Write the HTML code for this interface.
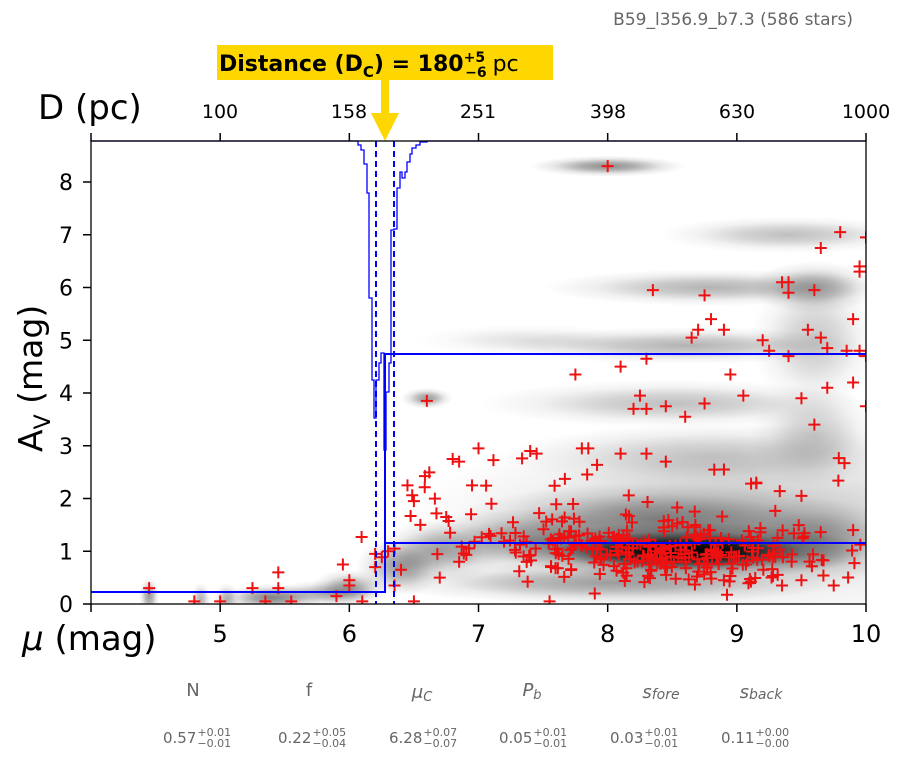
<!DOCTYPE html>
<html><head><meta charset="utf-8"><style>
body{margin:0;background:#fff;width:902px;height:759px;overflow:hidden;font-family:"DejaVu Sans","Liberation Sans",sans-serif}
svg text{font-family:"DejaVu Sans","Liberation Sans",sans-serif}
</style></head><body>
<svg id="s" width="902" height="759" viewBox="0 0 902 759" xmlns="http://www.w3.org/2000/svg">
<defs>
<radialGradient id="rg"><stop offset="0" stop-color="#000" stop-opacity="1"/><stop offset="0.35" stop-color="#000" stop-opacity="0.7"/><stop offset="0.7" stop-color="#000" stop-opacity="0.2"/><stop offset="1" stop-color="#000" stop-opacity="0"/></radialGradient>
<clipPath id="cp"><rect x="91" y="141" width="775" height="463"/></clipPath>
</defs>
<text x="853" y="25" font-size="17" fill="#666" text-anchor="end">B59_l356.9_b7.3 (586 stars)</text>
<rect x="217" y="45" width="336" height="35" fill="#ffd700"/>
<text x="219" y="71" font-size="22" font-weight="bold" fill="#000">Distance (D<tspan font-size="15" dy="6">C</tspan><tspan dy="-6">) = 180</tspan><tspan font-size="14" dy="-9">+5</tspan><tspan font-size="14" dx="-20" dy="15">−6</tspan><tspan font-weight="normal" dx="6" dy="-6">pc</tspan></text>
<rect x="381" y="80" width="8" height="36" fill="#ffd700"/>
<polygon points="371,113 399,113 385,141" fill="#ffd700"/>
<text x="38" y="119" font-size="34" fill="#000">D (pc)</text>
<g id="dens" clip-path="url(#cp)"></g>
<g id="pts" clip-path="url(#cp)"></g>
<g fill="none" stroke="#0000ff" stroke-width="1.3">
<path d="M91,141 L358,141 L358,145 L361,145 L361,150 L364,150 L364,164 L367,164 L367,193 L369,193 L369,298 L372,298 L372,380 L374,380 L374,418 L376,418 L376,380 L379,380 L379,363 L381,363 L381,353 L384,353 L384,450 L386,450 L386,392 L389,392 L389,363 L391,363 L391,230 L394,230 L394,229 L397,229 L397,188 L400,188 L400,172 L402,172 L402,178 L405,178 L405,172 L407,172 L407,162 L410,162 L410,154 L412,154 L412,148 L416,148 L416,145 L420,145 L420,142 L427,142 L427,141 L866,141"/>
</g>
<g fill="none" stroke="#0000ff" stroke-width="2">
<path d="M91,592 L385,592 L385,354 L866,354"/>
<path d="M385,543 L866,543"/>
<path d="M376,141 L376,604 M394,141 L394,604" stroke-dasharray="6,4"/>
</g>
<rect x="91" y="141" width="775" height="463" fill="none" stroke="#000" stroke-width="1.3"/>
<g id="ax" stroke="#000" stroke-width="1.5"></g>
<g id="lab" font-size="20" fill="#000"></g>
<text x="220" y="118" font-size="19" text-anchor="middle">100</text>
<text x="349" y="118" font-size="19" text-anchor="middle">158</text>
<text x="478" y="118" font-size="19" text-anchor="middle">251</text>
<text x="608" y="118" font-size="19" text-anchor="middle">398</text>
<text x="737" y="118" font-size="19" text-anchor="middle">630</text>
<text x="866" y="118" font-size="19" text-anchor="middle">1000</text>
<text x="22" y="650" font-size="34" fill="#000"><tspan font-style="italic">μ</tspan> (mag)</text>
<text transform="translate(42,452) rotate(-90)" font-size="33" fill="#000">A<tspan font-size="22" dy="8">V</tspan><tspan dy="-8"> (mag)</tspan></text>
<g font-size="18" fill="#666" text-anchor="middle">
<text x="193" y="696">N</text>
<text x="309" y="696">f</text>
<text x="422" y="698" font-style="italic">μ<tspan font-size="13" dy="3">C</tspan></text>
<text x="532" y="696" font-style="italic">P<tspan font-size="13" dy="3">b</tspan></text>
<text x="661" y="698" font-style="italic">s<tspan font-size="14" dy="1">fore</tspan></text>
<text x="761" y="698" font-style="italic">s<tspan font-size="14" dy="1">back</tspan></text>
</g>
<g font-size="15" fill="#666" id="vals"></g>
</svg>
<script>
var NS="http://www.w3.org/2000/svg";
function X(m){return 91+(m-4)*129.17}function Y(a){return 604-a*52.75}
function el(p,t,a,txt){var e=document.createElementNS(NS,t);for(var k in a)e.setAttribute(k,a[k]);if(txt!=null)e.textContent=txt;p.appendChild(e);return e}
var d=document.getElementById("dens");
var B=[[9.0,1.5,2.6,2.0,0.25],[8.6,1.0,1.4,0.55,1],[8.4,1.0,0.9,0.35,0.7],[8.9,1.0,0.6,0.3,0.6],[8.4,1.6,1.6,0.7,0.4],
[7.4,1.2,0.9,0.6,0.4],[6.7,1.0,0.5,0.6,0.35],[9.6,1.2,0.7,0.8,0.35],
[8.0,8.3,0.6,0.2,0.45],[9.4,7.0,1.0,0.35,0.25],[8.8,6.0,1.3,0.35,0.3],[9.6,6.0,0.5,0.5,0.35],
[8.6,4.9,1.4,0.35,0.3],[7.4,5.0,0.9,0.3,0.12],[8.5,3.8,1.5,0.45,0.25],[6.6,3.9,0.2,0.2,0.4],
[8.8,2.8,1.6,0.6,0.2],[9.6,3.2,0.5,1.0,0.22],[9.6,5.0,0.5,1.3,0.22],
[5.4,0.12,0.4,0.25,0.5],[4.45,0.15,0.08,0.35,0.4],[4.85,0.1,0.08,0.3,0.3],[5.05,0.1,0.1,0.3,0.3],[6.0,0.3,0.3,0.35,0.4],[5.8,0.2,0.4,0.25,0.3],[6.4,0.7,0.35,0.55,0.4],[8.0,0.4,1.8,0.4,0.35]];
B.forEach(function(b){el(d,"ellipse",{cx:X(b[0]),cy:Y(b[1]),rx:b[2]*129,ry:b[3]*52.75,fill:"url(#rg)",opacity:b[4]})});
var p=document.getElementById("pts");var s=12345;function r(){s=(s*16807)%2147483647;return s/2147483647}
function g(){return (r()+r()+r()-1.5)*1.4}
function cr(m,a){var x=X(m),y=Y(a);el(p,"path",{d:"M"+(x-6)+","+y+"h12M"+x+","+(y-6)+"v12",stroke:"#ee1111","stroke-width":2})}
for(var i=0;i<250;i++){cr(8.5+g()*0.8,1.0+g()*0.42)}
for(var i=0;i<50;i++){cr(7.3+g()*0.7,1.2+g()*0.5)}
for(var i=0;i<25;i++){cr(6.3+r()*3.6,1.6+r()*1.2)}
var O=[[8,8.3],[9.8,7.05],[10,6.95],[9.65,6.75],[9.95,6.4],[9.95,6.3],[9.35,6.1],[9.4,6.1],[9.4,5.9],[9.6,5.95],[8.35,5.95],[8.75,5.85],[8.8,5.4],[8.7,5.2],[8.9,5.2],[8.65,5.05],[9.55,5.2],[9.65,5.05],[9.9,5.4],[9.7,4.85],[9.85,4.8],[9.95,4.8],[9.4,4.7],[8.3,4.65],[9.2,5.0],[9.25,4.8],[10,4.7],[7.75,4.35],[8.1,4.5],[8.95,4.35],[9.05,3.95],[8.25,3.95],[8.2,3.7],[8.3,3.7],[8.45,3.75],[8.75,3.8],[8.6,3.55],[9.6,3.4],[9.5,3.9],[9.9,4.2],[10,3.75],[9.7,4.1],[6.6,3.85],[7.85,2.95],[7.8,2.95],[8.1,2.85],[8.3,2.85],[8.45,2.7],[8.9,2.55],[7.0,2.95],[7.4,2.9],[7.45,2.85],[6.8,2.75],[6.85,2.7],[6.95,2.25],[6.45,2.25],[6.5,1.95],[9.15,2.3],[9.5,2.05],[9.9,1.4],[9.75,0.35],[8.9,0.45],[9.35,0.35],[9.5,0.45],[7.9,0.2],[6.35,0.35],[6.2,0.95],[6.2,0.7],[5.95,0.75],[6.0,0.45],[6.0,0.35],[5.9,0.15],[5.45,0.6],[5.45,0.3],[5.25,0.3],[4.45,0.3],[5.35,0.05],[5.55,0.05],[6.5,0.05],[6.3,1.0],[6.35,1.05],[6.4,0.65],[6.55,1.5],[6.75,1.65],[6.7,0.5],[6.85,0.8],[7.1,1.9],[5.0,0.05],[4.8,0.05],[6.1,0.05],[7.55,0.05]];
O.forEach(function(o){cr(o[0],o[1])});
var ax=document.getElementById("ax"),lab=document.getElementById("lab");
for(var m=4;m<=10;m++){var x=X(m);el(ax,"line",{x1:x,y1:604,x2:x,y2:612});el(ax,"line",{x1:x,y1:141,x2:x,y2:133});if(m>4)el(lab,"text",{x:x,y:642,"text-anchor":"middle","font-size":24},m)}
for(var a=0;a<=8;a++){var y=Y(a);el(ax,"line",{x1:83,y1:y,x2:91,y2:y});el(lab,"text",{x:73,y:y+8,"text-anchor":"end","font-size":22},a)}
var V=[[163,"0.57","+0.01","−0.01"],[278,"0.22","+0.05","−0.04"],[389,"6.28","+0.07","−0.07"],[499,"0.05","+0.01","−0.01"],[610,"0.03","+0.01","−0.01"],[721,"0.11","+0.00","−0.00"]];
var vg=document.getElementById("vals");
V.forEach(function(v){var t=el(vg,"text",{x:v[0],y:743});t.textContent=v[1];var w=t.getComputedTextLength();
el(vg,"text",{x:v[0]+w+1,y:736,"font-size":11},v[2]);el(vg,"text",{x:v[0]+w+1,y:747,"font-size":11},v[3])});
</script>
</body></html>
